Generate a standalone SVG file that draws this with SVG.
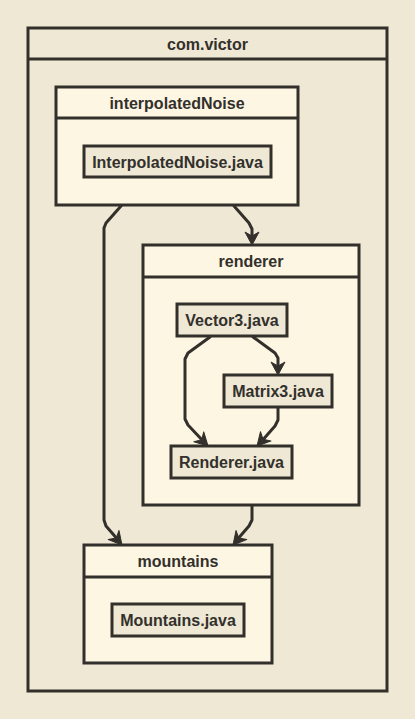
<svg xmlns="http://www.w3.org/2000/svg" width="415" height="719" viewBox="0 0 415 719">
<style>
.bg{fill:#EEE8D5}
.pkg{fill:#FDF6E3;stroke:#33302C;stroke-width:3}
.outer{fill:#EEE8D5;stroke:#33302C;stroke-width:3}
.file{fill:#EEE8D5;stroke:#33302C;stroke-width:3}
.hl{stroke:#33302C;stroke-width:3}
text{font-family:"Liberation Sans",Arial,sans-serif;font-weight:bold;font-size:16px;fill:#33302C;text-anchor:middle}
.edge{fill:none;stroke:#33302C;stroke-width:3;stroke-linejoin:round;stroke-linecap:round}
.ah{fill:#33302C;stroke:#33302C;stroke-width:1;stroke-linejoin:round}
</style>
<defs>
<polygon id="arrow" points="0,0 -7,-13 0,-9 7,-13"/>
</defs>
<rect class="bg" x="0" y="0" width="415" height="719"/>
<g id="com.victor">
<rect class="outer" x="28" y="28" width="359" height="663"/>
<line class="hl" x1="28" y1="59" x2="387" y2="59"/>
<text x="207.5" y="49.5">com.victor</text>
</g>
<g id="interpolatedNoise">
<rect class="pkg" x="56" y="87" width="242" height="118"/>
<line class="hl" x1="56" y1="118" x2="298" y2="118"/>
<text x="177" y="108.5">interpolatedNoise</text>
<g id="InterpolatedNoise.java">
<rect class="file" x="84" y="146" width="187" height="31"/>
<text x="177.5" y="167.5">InterpolatedNoise.java</text>
</g>
</g>
<g id="renderer">
<rect class="pkg" x="143" y="245" width="216" height="260"/>
<line class="hl" x1="143" y1="277" x2="359" y2="277"/>
<text x="251" y="267">renderer</text>
<g id="Vector3.java">
<rect class="file" x="177" y="304" width="110" height="32"/>
<text x="232" y="326">Vector3.java</text>
</g>
<g id="Matrix3.java">
<rect class="file" x="224" y="375" width="108" height="32"/>
<text x="278" y="397">Matrix3.java</text>
</g>
<g id="Renderer.java">
<rect class="file" x="171" y="446" width="121" height="32"/>
<text x="231.5" y="468">Renderer.java</text>
</g>
</g>
<g id="mountains">
<rect class="pkg" x="84" y="545" width="188" height="118"/>
<line class="hl" x1="84" y1="577" x2="272" y2="577"/>
<text x="178" y="567">mountains</text>
<g id="Mountains.java">
<rect class="file" x="112" y="604" width="132" height="32"/>
<text x="178" y="626">Mountains.java</text>
</g>
</g>
<g id="connectors">
<polyline class="edge" points="121,206 106,223 104,228 104,520 106,526 119,541"/>
<use href="#arrow" class="ah" transform="translate(122,545) rotate(-40)"/>
<polyline class="edge" points="234,206 249,223 252,229 252,239"/>
<use href="#arrow" class="ah" transform="translate(252,245)"/>
<polyline class="edge" points="252,506 252,520 249,526 236,541"/>
<use href="#arrow" class="ah" transform="translate(233,545) rotate(40)"/>
<polyline class="edge" points="253,337 275,353 278,358 278,369"/>
<use href="#arrow" class="ah" transform="translate(278,375)"/>
<polyline class="edge" points="210,337 188,353 185,359 185,419 188,425 204,442"/>
<use href="#arrow" class="ah" transform="translate(208,446) rotate(-45)"/>
<polyline class="edge" points="278,408 278,420 275,426 261,442"/>
<use href="#arrow" class="ah" transform="translate(257,446) rotate(42)"/>
</g>
</svg>
